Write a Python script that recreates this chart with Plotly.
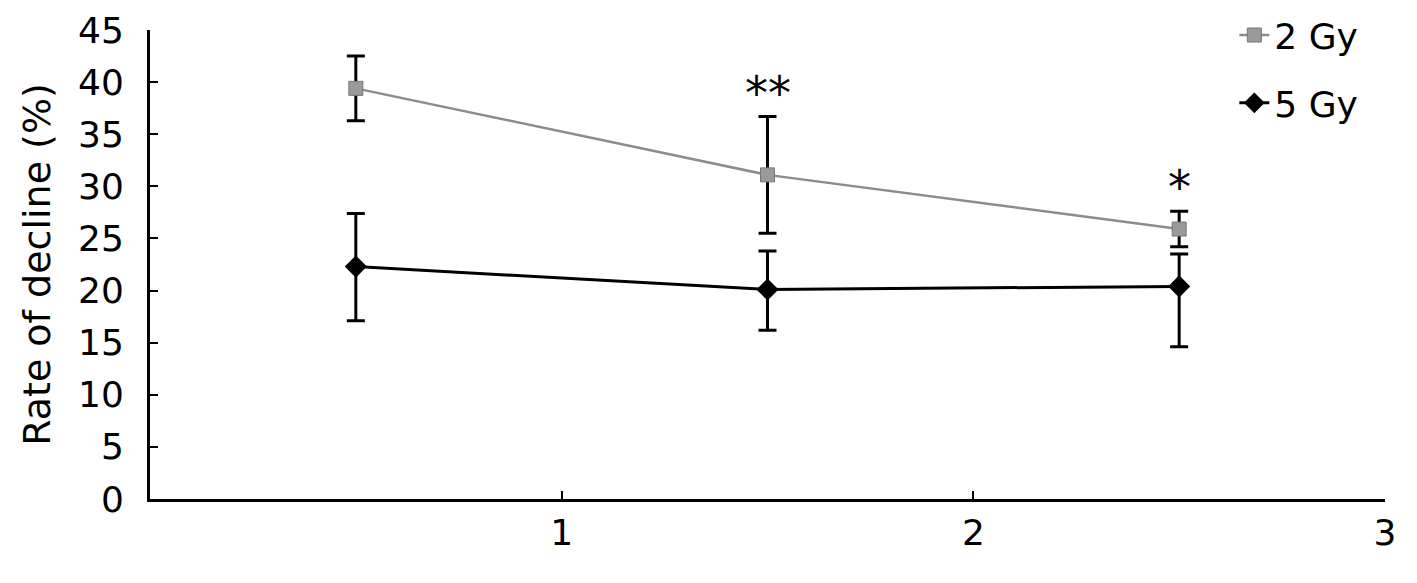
import plotly.graph_objects as go

x_pos = [0.5, 1.5, 2.5]

gy2_mean = [39.4, 31.1, 25.9]
gy2_err = [3.1, 5.6, 1.7]

gy5_mean = [22.3, 20.1, 20.4]
gy5_err_plus = [5.1, 3.7, 3.1]
gy5_err_minus = [5.2, 3.9, 5.8]

signif_labels = ["", "**", "*"]

x_ticks = [1, 2, 3]
y_ticks = [0, 5, 10, 15, 20, 25, 30, 35, 40, 45]

FONT = "DejaVu Sans"

fig = go.Figure()

# 2 Gy (grey squares)
fig.add_trace(
    go.Scatter(
        x=x_pos,
        y=gy2_mean,
        mode="lines+markers",
        name="2 Gy",
        legendgroup="a",
        line=dict(color="#8c8c8c", width=2.5),
        marker=dict(symbol="square", size=14, color="#9a9a9a",
                    line=dict(color="#777777", width=1)),
        error_y=dict(type="data", array=gy2_err, color="black",
                     thickness=3, width=9),
    )
)

# 5 Gy (black diamonds)
fig.add_trace(
    go.Scatter(
        x=x_pos,
        y=gy5_mean,
        mode="lines+markers",
        name="5 Gy",
        legendgroup="b",
        line=dict(color="black", width=3),
        marker=dict(symbol="diamond", size=17, color="black"),
        error_y=dict(type="data", symmetric=False, array=gy5_err_plus,
                     arrayminus=gy5_err_minus, color="black",
                     thickness=3, width=9),
    )
)

# significance stars above the 2 Gy error bars
for xv, m, e, lab in zip(x_pos, gy2_mean, gy2_err, signif_labels):
    if lab:
        fig.add_annotation(
            x=xv, y=m + e, text=lab, showarrow=False,
            yanchor="bottom", yshift=-5,
            font=dict(family=FONT, size=46, color="black"),
        )

fig.update_layout(
    width=1417,
    height=583,
    paper_bgcolor="white",
    plot_bgcolor="white",
    margin=dict(l=142, r=40, t=22, b=92, autoexpand=False),
    font=dict(family=FONT, size=36, color="black"),
    legend=dict(
        x=0.878, y=1.053, xanchor="left", yanchor="top",
        traceorder="grouped", tracegroupgap=18,
        font=dict(family=FONT, size=36),
        bgcolor="rgba(0,0,0,0)",
    ),
)

fig.update_xaxes(
    range=[0, 3],
    tickvals=x_ticks,
    ticks="inside",
    ticklen=8,
    tickwidth=2,
    tickcolor="black",
    showline=True,
    linecolor="black",
    linewidth=3,
    showgrid=False,
    zeroline=False,
    automargin=False,
    tickfont=dict(family=FONT, size=36),
)

fig.update_yaxes(
    range=[0, 45],
    tickvals=y_ticks,
    ticks="inside",
    ticklen=8,
    tickwidth=2,
    tickcolor="black",
    showline=True,
    linecolor="black",
    linewidth=3,
    showgrid=False,
    zeroline=False,
    automargin=False,
    ticklabelstandoff=16,
    title=dict(text="Rate of decline (%)", font=dict(family=FONT, size=38),
               standoff=16),
    tickfont=dict(family=FONT, size=36),
)

fig.write_html("out.html")
